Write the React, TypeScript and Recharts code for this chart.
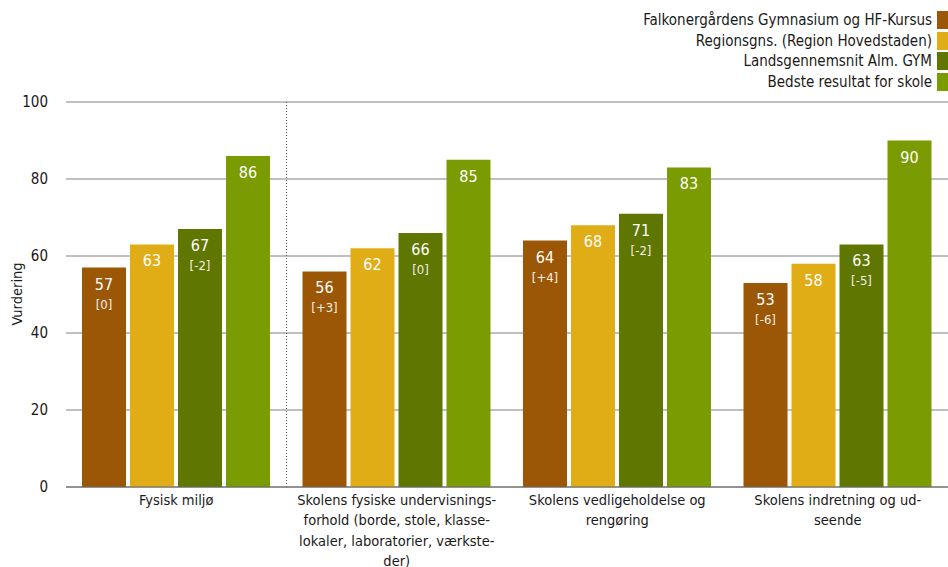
import React from "react";
import { BarChart, Bar, XAxis, YAxis, CartesianGrid, LabelList, ReferenceLine } from "recharts";

const categories = [
  "Fysisk miljø",
  "Skolens fysiske undervisnings-\nforhold (borde, stole, klasse-\nlokaler, laboratorier, værkste-\nder)",
  "Skolens vedligeholdelse og\nrengøring",
  "Skolens indretning og ud-\nseende",
];
const seriesNames = [
  "Falkonergårdens Gymnasium og HF-Kursus",
  "Regionsgns. (Region Hovedstaden)",
  "Landsgennemsnit Alm. GYM",
  "Bedste resultat for skole",
];
const schoolValues = [57, 56, 64, 53];
const regionValues = [63, 62, 68, 58];
const nationalValues = [67, 66, 71, 63];
const bestValues = [86, 85, 83, 90];
const schoolDiffs = ["[0]", "[+3]", "[+4]", "[-6]"];
const nationalDiffs = ["[-2]", "[0]", "[-2]", "[-5]"];
const yTicks = [0, 20, 40, 60, 80, 100];

const colors = ["#9B5705", "#E1AD17", "#5F7601", "#7B9B02"];
const FONT = "'DejaVu Sans Condensed', 'DejaVu Sans', sans-serif";

const data = categories.map((c, i) => ({
  name: c,
  school: schoolValues[i],
  region: regionValues[i],
  national: nationalValues[i],
  best: bestValues[i],
}));

const makeLabel = (diffs: string[] | null) => (props: any) => {
  const { x, y, width, value, index } = props;
  const cx = x + width / 2;
  return (
    <g>
      <text x={cx} y={y + 22} textAnchor="middle" fill="#fff" fontSize={16} fontFamily={FONT}>
        {value}
      </text>
      {diffs ? (
        <text x={cx} y={y + 41} textAnchor="middle" fill="#f2efe6" fontSize={13} fontFamily={FONT}>
          {diffs[index]}
        </text>
      ) : null}
    </g>
  );
};

const XTick = (props: any) => {
  const { x, y, payload } = props;
  const lines = String(payload.value).split("\n");
  return (
    <text x={x} y={y} textAnchor="middle" fill="#1a1a1a" fontSize={14.5} fontFamily={FONT}>
      {lines.map((l, i) => (
        <tspan key={i} x={x} dy={i === 0 ? 10 : 20.3}>
          {l}
        </tspan>
      ))}
    </text>
  );
};

export default function App() {
  return (
    <div style={{ position: "relative", width: 948, height: 567, fontFamily: FONT }}>
      <style>{`body{margin:0}`}</style>
      <div style={{ position: "absolute", right: 0, top: 10, zIndex: 2 }}>
        {seriesNames.map((n, i) => (
          <div key={n} style={{ display: "flex", alignItems: "center", justifyContent: "flex-end", height: 20.5 }}>
            <span style={{ fontSize: 15, color: "#1a1a1a", marginRight: 5, whiteSpace: "nowrap" }}>{n}</span>
            <span style={{ display: "inline-block", width: 11, height: 18, background: colors[i] }} />
          </div>
        ))}
      </div>
      <div
        style={{
          position: "absolute",
          left: 17,
          top: 294,
          transform: "translate(-50%, -50%) rotate(-90deg)",
          fontSize: 14.5,
          color: "#1a1a1a",
          whiteSpace: "nowrap",
        }}
      >
        Vurdering
      </div>
      <BarChart
        width={948}
        height={567}
        data={data}
        margin={{ top: 102, right: 0, bottom: 0, left: 0 }}
        barCategoryGap={16}
        barGap={4}
      >
        <CartesianGrid vertical={false} stroke="#808080" strokeWidth={1} />
        <XAxis
          dataKey="name"
          height={80}
          tickLine={false}
          axisLine={{ stroke: "#666" }}
          tick={<XTick />}
          interval={0}
        />
        <YAxis
          width={66}
          domain={[0, 100]}
          ticks={yTicks}
          tickLine={false}
          axisLine={false}
          tick={{ fill: "#1a1a1a", fontSize: 15, fontFamily: FONT }}
          tickMargin={12}
        />
        <ReferenceLine x={categories[0]} position="end" stroke="#555" strokeDasharray="1 2" />
        <Bar dataKey="school" fill={colors[0]} isAnimationActive={false}>
          <LabelList dataKey="school" content={makeLabel(schoolDiffs)} />
        </Bar>
        <Bar dataKey="region" fill={colors[1]} isAnimationActive={false}>
          <LabelList dataKey="region" content={makeLabel(null)} />
        </Bar>
        <Bar dataKey="national" fill={colors[2]} isAnimationActive={false}>
          <LabelList dataKey="national" content={makeLabel(nationalDiffs)} />
        </Bar>
        <Bar dataKey="best" fill={colors[3]} isAnimationActive={false}>
          <LabelList dataKey="best" content={makeLabel(null)} />
        </Bar>
      </BarChart>
    </div>
  );
}
